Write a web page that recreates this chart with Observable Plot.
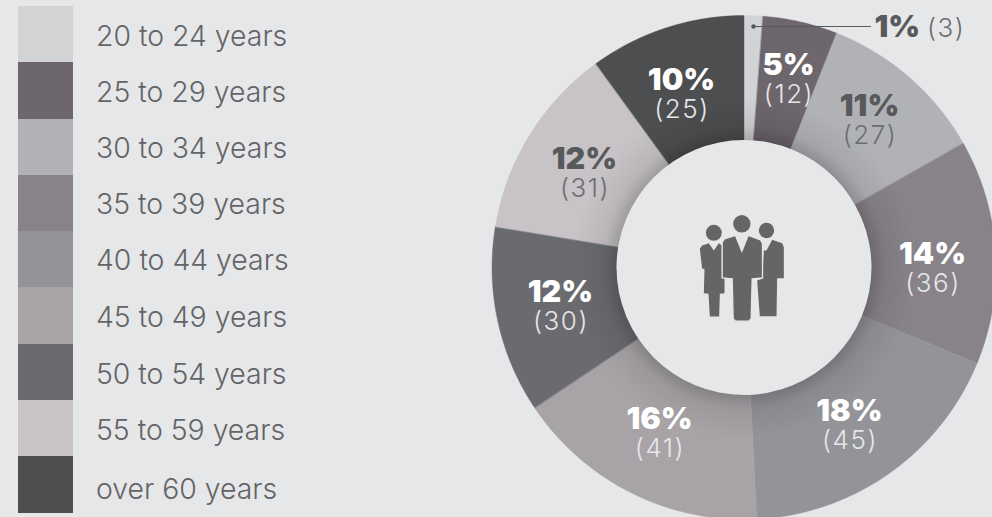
<!DOCTYPE html>
<html>
<head>
<meta charset="utf-8">
<style>
  html, body { margin: 0; padding: 0; background: #e6e7e9; overflow: hidden; }
  svg { display: block; }
  .count-label { letter-spacing: 1.5px; }
</style>
<script src="https://cdn.jsdelivr.net/npm/d3@7"></script>
<script src="https://cdn.jsdelivr.net/npm/@observablehq/plot@0.6"></script>
</head>
<body>
<div id="chart"></div>
<script>
// ---- data ----
const ages = ["20 to 24 years","25 to 29 years","30 to 34 years","35 to 39 years","40 to 44 years","45 to 49 years","50 to 54 years","55 to 59 years","over 60 years"];
const counts = [3, 12, 27, 36, 45, 41, 30, 31, 25];
const percents = [1, 5, 11, 14, 18, 16, 12, 12, 10];
const colors = ["#d1d3d4","#6d666c","#b1b2b5","#888388","#929497","#a7a3a7","#6a6b6e","#c7c3c6","#4d4e50"];

// ---- layout ----
const W = 992, H = 517, BG = "#e6e7e9", INK = "#636466";
const cx = 743.5, cy = 267, R = 252, r0 = 127.5, shadowR = 172;
const FONT = "Inter, 'Open Sans', sans-serif";
const legendX = [18, 73], legendTextX = 95.5;
const legendEdges = [6, 62, 119, 175, 231, 287, 344, 400, 456, 513];
const legendTextY = [36, 92, 148, 204, 260, 317, 374, 430, 489];
const labelX = [null, 788, 869, 932, 849, 659, 560, 584, 681];
const labelY = [null, 65, 106, 254, 411, 419, 292, 159, 80];
const subDY = 29.5;
const labelInk = ["#58595b","#ffffff","#58595b","#ffffff","#ffffff","#ffffff","#ffffff","#58595b","#ffffff"];
const subInk = ["#6d6e71","#e6e7e9","#6d6e71","#e6e7e9","#e6e7e9","#e6e7e9","#e6e7e9","#6d6e71","#e6e7e9"];

// ---- slices: polar arcs from the cumulative counts, clockwise from 12 o'clock ----
const total = d3.sum(counts);
const cumulative = d3.cumsum(counts);
const slices = ages.flatMap((age, i) => {
  const a0 = ((cumulative[i] - counts[i]) / total) * 2 * Math.PI;
  const a1 = (cumulative[i] / total) * 2 * Math.PI;
  const n = Math.max(2, Math.ceil((a1 - a0) / 0.01));
  const at = (rad, a) => ({age, x: cx + rad * Math.sin(a), y: cy - rad * Math.cos(a)});
  const outer = d3.range(n + 1).map(k => at(R, a0 + (a1 - a0) * k / n));
  const inner = d3.range(n + 1).map(k => at(r0 - 2, a1 - (a1 - a0) * k / n));
  return [...outer, ...inner];
});

const legend = ages.map((age, i) => ({age, y1: legendEdges[i], y2: legendEdges[i + 1], ty: legendTextY[i]}));
const labels = ages.map((age, i) => ({
  pct: percents[i] + "%", sub: "(" + counts[i] + ")", x: labelX[i], y: labelY[i],
  ink: labelInk[i], subInk: subInk[i]
})).filter(d => d.x != null);

// ---- icon shapes, drawn as custom Plot.dot symbols (in 1/3 px about a reference point) ----
const iconOrigin = [680, 200];
const toIcon = ([a, b]) => [iconOrigin[0] + a / 3 - cx, iconOrigin[1] + b / 3 - cy];
const polySymbol = (body) => ({
  draw(c) {
    body.forEach((p, i) => {
      const [x, y] = toIcon(p);
      if (i) c.lineTo(x, y); else c.moveTo(x, y);
    });
    c.closePath();
  }
});
const headSymbol = (headX, headY, hr) => ({
  draw(c) {
    const [hx, hy] = toIcon([headX, headY]);
    c.moveTo(hx + hr / 3, hy);
    c.arc(hx, hy, hr / 3, 0, 2 * Math.PI);
    c.closePath();
  }
});
const womanBody = [[85,128],[100,150],[115,128],[124,135],[124,230],[132,235],[132,278],[118,280],[116,348],[88,348],[84,280],[70,278],[72,205],[65,205],[58,145],[65,135]];
const rightBody = [[275,118],[305,128],[310,140],[310,233],[290,233],[288,347],[238,347],[230,240],[245,235],[250,150],[258,150]];
const centerBody = [[165,105],[184,152],[203,105],[240,118],[246,130],[246,232],[215,235],[212,355],[205,362],[165,362],[158,355],[155,235],[125,232],[125,125],[132,115]];

const shadowDefs = () => {
  const defs = d3.create("svg:defs");
  const g = defs.append("radialGradient").attr("id", "ringShadow");
  g.append("stop").attr("offset", r0 / shadowR).attr("stop-color", "#000").attr("stop-opacity", 0.2);
  g.append("stop").attr("offset", (r0 + 14) / shadowR).attr("stop-color", "#000").attr("stop-opacity", 0.07);
  g.append("stop").attr("offset", 1).attr("stop-color", "#000").attr("stop-opacity", 0);
  return defs.node();
};

const textCommon = {fontFamily: FONT, textAnchor: "middle"};
const centre = {x: () => cx, y: () => cy};
const ICON = "#656567";
const chart = Plot.plot({
  width: W, height: H, margin: 0,
  style: {background: BG, overflow: "hidden"},
  x: {domain: [0, W], range: [0, W], axis: null},
  y: {domain: [0, H], range: [0, H], axis: null},
  color: {type: "ordinal", domain: ages, range: colors},
  marks: [
    shadowDefs,
    Plot.line(slices, {x: "x", y: "y", z: "age", fill: "age", stroke: "age", strokeWidth: 0.4, curve: "linear-closed"}),
    Plot.dot([0], {...centre, r: shadowR, fill: "url(#ringShadow)", stroke: "none"}),
    Plot.dot([0], {...centre, r: r0, fill: BG, stroke: "none"}),
    // icon
    Plot.dot([0], {...centre, fill: ICON, stroke: "none", symbol: headSymbol(100, 97, 24)}),
    Plot.dot([0], {...centre, fill: ICON, stroke: "none", symbol: headSymbol(258, 90, 23)}),
    Plot.dot([0], {...centre, fill: ICON, stroke: "none", symbol: polySymbol(womanBody)}),
    Plot.dot([0], {...centre, fill: ICON, stroke: "none", symbol: polySymbol(rightBody)}),
    Plot.dot([0], {...centre, fill: ICON, stroke: "none", symbol: headSymbol(184, 70, 26)}),
    Plot.dot([0], {...centre, fill: ICON, stroke: BG, strokeWidth: 1.3, symbol: polySymbol(centerBody)}),
    // legend
    Plot.rect(legend, {x1: () => legendX[0], x2: () => legendX[1], y1: "y1", y2: "y2", fill: "age", inset: 0}),
    Plot.text(legend, {x: () => legendTextX, y: "ty", text: "age", textAnchor: "start", fontFamily: FONT, fontWeight: 300, fontSize: 28.4, fill: INK}),
    // slice labels
    Plot.text(labels, {...textCommon, x: "x", y: "y", text: "pct", fontWeight: 900, fontSize: 30.5, fill: {value: "ink", scale: null}}),
    Plot.text(labels, {...textCommon, className: "count-label", x: d => d.x + 0.5, y: d => d.y + subDY, text: "sub", fontWeight: 300, fontSize: 26, fill: {value: "subInk", scale: null}}),
    // 1% leader
    Plot.ruleY([0], {y: () => 26, x1: () => 753, x2: () => 871, stroke: "#58595b", strokeWidth: 1.2}),
    Plot.dot([0], {x: () => 753, y: () => 26, r: 2.2, fill: "#58595b", stroke: "none"}),
    Plot.text([percents[0] + "%"], {x: () => 874, y: () => 26.5, text: d => d, textAnchor: "start", fontFamily: FONT, fontWeight: 900, fontSize: 30.5, fill: "#58595b"}),
    Plot.text(["(" + counts[0] + ")"], {className: "count-label", x: () => 926.5, y: () => 28.5, text: d => d, textAnchor: "start", fontFamily: FONT, fontWeight: 300, fontSize: 26, fill: "#6d6e71"})
  ]
});
document.getElementById("chart").append(chart);
</script>
</body>
</html>
